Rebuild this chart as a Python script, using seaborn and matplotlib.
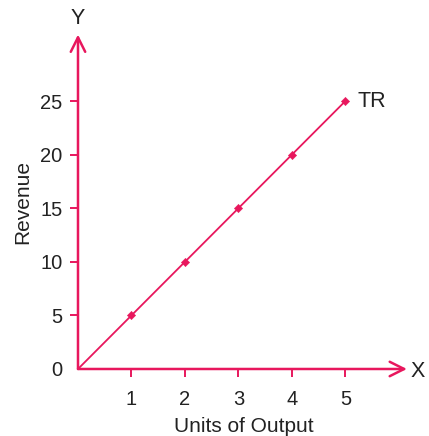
import pandas as pd
import matplotlib
matplotlib.use('Agg')
import matplotlib.pyplot as plt
import seaborn as sns

# data
units = [0, 1, 2, 3, 4, 5]
revenue = [0, 5, 10, 15, 20, 25]
x_ticks = [1, 2, 3, 4, 5]
y_ticks = [0, 5, 10, 15, 20, 25]

pink = '#E8175D'

sns.set_style('white')
plt.rcParams['font.family'] = ['Liberation Sans', 'DejaVu Sans']

df = pd.DataFrame({'units': units, 'revenue': revenue})

fig = plt.figure(figsize=(4.29, 4.36), dpi=100)
ax = fig.add_axes([0.1818, 0.1537, 0.773, 0.767])

sns.lineplot(data=df, x='units', y='revenue', color=pink, linewidth=1.3, ax=ax)
sns.scatterplot(data=df[df.units > 0], x='units', y='revenue', color=pink,
                marker='D', s=18, edgecolor=pink, ax=ax, zorder=3)

ax.set_xlim(0, 6.2)
ax.set_ylim(0, 31.2)
for s in ax.spines.values():
    s.set_visible(False)

# axes with arrows
arrow = dict(arrowstyle='->', color=pink, lw=1.8, mutation_scale=26,
             shrinkA=0, shrinkB=0)
ax.annotate('', xy=(6.15, 0), xytext=(0, 0), annotation_clip=False, arrowprops=arrow)
ax.annotate('', xy=(0, 31.2), xytext=(0, 0), annotation_clip=False, arrowprops=arrow)
ax.text(6.22, -0.2, 'X', fontsize=15.5, va='center', ha='left', color='#222222')
ax.text(0, 32.7, 'Y', fontsize=15.5, va='center', ha='center', color='#222222')
ax.text(5.22, 25.0, 'TR', fontsize=15.5, va='center', ha='left', color='#222222')

ax.set_xticks(x_ticks)
ax.set_yticks(y_ticks)
ax.tick_params(axis='both', direction='out', length=6, width=1.4, color=pink,
               labelsize=14.5, labelcolor='#222222', pad=6)
ax.tick_params(axis='x', bottom=True, pad=9)
ax.tick_params(axis='y', left=True, pad=5)
ax.yaxis.get_major_ticks()[0].tick1line.set_visible(False)

ax.set_xlabel('Units of Output', fontsize=15, color='#222222', labelpad=6)
ax.set_ylabel('Revenue', fontsize=15, color='#222222', labelpad=6)

fig.savefig('out.png', dpi=100)
